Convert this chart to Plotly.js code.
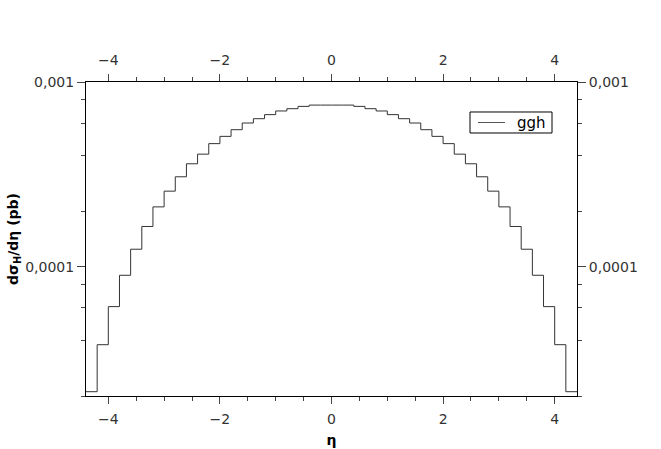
<!DOCTYPE html>
<html>
<head>
<meta charset="utf-8">
<script src="https://cdn.plot.ly/plotly-3.0.1.min.js"></script>
<style>html,body{margin:0;padding:0;background:#fff}#chart{width:661px;height:449px}</style>
</head>
<body>
<div id="chart"></div>
<script>
// Bin edges of eta (width 0.2)
const binEdges = [-4.4,-4.2,-4.0,-3.8,-3.6,-3.4,-3.2,-3.0,-2.8,-2.6,-2.4,-2.2,-2.0,-1.8,-1.6,-1.4,-1.2,-1.0,-0.8,-0.6,-0.4,-0.2,0.0,
                  0.2,0.4,0.6,0.8,1.0,1.2,1.4,1.6,1.8,2.0,2.2,2.4,2.6,2.8,3.0,3.2,3.4,3.6,3.8,4.0,4.2,4.4];
// dσ_H/dη (pb) per bin, series "ggh"
const ggh = [2.11e-5,3.79e-5,6.09e-5,9.0e-5,1.245e-4,1.653e-4,2.11e-4,2.567e-4,3.07e-4,3.61e-4,4.07e-4,4.64e-4,
             5.08e-4,5.52e-4,6.00e-4,6.33e-4,6.66e-4,6.97e-4,7.17e-4,7.38e-4,7.50e-4,7.50e-4,
             7.50e-4,7.50e-4,7.38e-4,7.17e-4,6.97e-4,6.66e-4,6.33e-4,6.00e-4,5.52e-4,5.08e-4,
             4.64e-4,4.07e-4,3.61e-4,3.07e-4,2.567e-4,2.11e-4,1.653e-4,1.245e-4,9.0e-5,6.09e-5,3.79e-5,2.11e-5];
const seriesName = "ggh";
const xTickVals = [-4,-2,0,2,4];
const yTickVals = [1e-4, 1e-3];
const yTickText = ["0,0001", "0,001"];
const yMinorVals = [2e-5,4e-5,6e-5,8e-5,2e-4,4e-4,6e-4,8e-4];

const yStep = ggh.concat([ggh[ggh.length-1]]);

const FAM = "DejaVu Sans, sans-serif";
const font = {family: FAM, size: 14, color: "#333"};
const xRange = [-4.4, 4.4];
const yRange = [Math.log10(2e-5), Math.log10(1e-3)];

const xBase = {
  range: xRange, tickmode: "array", tickvals: xTickVals,
  ticks: "outside", ticklen: 7, tickwidth: 1, tickcolor: "#444", ticklabelstandoff: 3,
  minor: {dtick: 0.5, tick0: 0, ticks: "outside", ticklen: 4, tickcolor: "#444", showgrid: false},
  showline: true, linecolor: "#000", linewidth: 1,
  showgrid: false, zeroline: false, tickfont: font, fixedrange: true
};
const yBase = {
  type: "log", range: yRange, tickmode: "array", tickvals: yTickVals, ticktext: yTickText,
  ticks: "outside", ticklen: 8, tickwidth: 1, tickcolor: "#444",
  minor: {tickmode: "array", tickvals: yMinorVals, ticks: "outside", ticklen: 4, tickcolor: "#444", showgrid: false},
  showline: true, linecolor: "#000", linewidth: 1,
  showgrid: false, zeroline: false, tickfont: font, fixedrange: true
};

const traces = [
  {x: binEdges, y: yStep, type: "scatter", mode: "lines", line: {shape: "hv", color: "#333", width: 1},
   name: seriesName, showlegend: false, xaxis: "x", yaxis: "y", hoverinfo: "skip"},
  {x: binEdges, y: yStep, type: "scatter", mode: "lines", line: {shape: "hv", color: "rgba(0,0,0,0)", width: 0},
   showlegend: false, xaxis: "x2", yaxis: "y2", hoverinfo: "skip"}
];

// legend box drawn in paper coordinates
const leg = {x0: 0.7821, x1: 0.9491, y0: 0.8376, y1: 0.9045, lx0: 0.7984, lx1: 0.8534, ly: 0.871, tx: 0.8737};

const layout = {
  width: 661, height: 449,
  margin: {l: 86, r: 84, t: 82, b: 53},
  paper_bgcolor: "#fff", plot_bgcolor: "#fff",
  font: font,
  showlegend: false,
  shapes: [
    {type: "rect", xref: "paper", yref: "paper", x0: leg.x0, x1: leg.x1, y0: leg.y0, y1: leg.y1,
     line: {color: "#000", width: 1}, fillcolor: "#fff", layer: "above"},
    {type: "line", xref: "paper", yref: "paper", x0: leg.lx0, x1: leg.lx1, y0: leg.ly, y1: leg.ly,
     line: {color: "#555", width: 1}, layer: "above"}
  ],
  annotations: [
    {xref: "paper", yref: "paper", x: leg.tx, y: leg.ly, xanchor: "left", yanchor: "middle",
     text: seriesName, showarrow: false, font: {family: FAM, size: 15, color: "#000"}}
  ],
  xaxis: Object.assign({}, xBase, {side: "bottom",
    title: {text: "<b>η</b>", font: {family: FAM, size: 14, color: "#000"}, standoff: 9}}),
  xaxis2: Object.assign({}, xBase, {side: "top", overlaying: "x", anchor: "y"}),
  yaxis: Object.assign({}, yBase, {side: "left",
    title: {text: "<b>dσ<sub>H</sub>/dη (pb)</b>", font: {family: FAM, size: 14, color: "#000"}, standoff: 3}}),
  yaxis2: Object.assign({}, yBase, {side: "right", overlaying: "y", anchor: "x"})
};

Plotly.newPlot("chart", traces, layout, {displayModeBar: false, staticPlot: true});
</script>
</body>
</html>
